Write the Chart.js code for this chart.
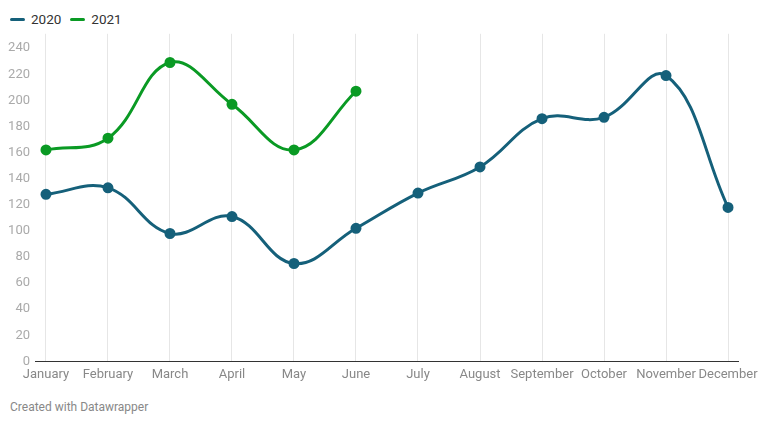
<!DOCTYPE html>
<html>
<head>
<meta charset="utf-8">
<script src="https://cdn.jsdelivr.net/npm/chart.js@4"></script>
<style>
  body { margin: 0; background: #fff; font-family: Roboto, "Noto Sans", sans-serif; }
  #wrap { position: relative; width: 768px; height: 424px; }
  #legend { position: absolute; left: 10px; top: 11px; font-size: 13.5px; color: #333; display: flex; gap: 9px; }
  #legend span { display: inline-flex; align-items: center; }
  #legend i { display: inline-block; width: 15px; height: 3px; border-radius: 2px; margin-right: 6px; }
  #box { position: absolute; left: 0; top: 21px; width: 768px; height: 368px; }
  #foot { position: absolute; left: 10px; top: 400px; font-size: 12px; color: #888; }
</style>
</head>
<body>
<div id="wrap">
  <div id="legend"></div>
  <div id="box"><canvas id="chart"></canvas></div>
  <div id="foot">Created with Datawrapper</div>
</div>
<script>
const months = ["January", "February", "March", "April", "May", "June", "July", "August", "September", "October", "November", "December"]
const values2020 = [128, 133, 98, 111, 75, 102, 129, 149, 186, 187, 219, 118]
const values2021 = [162, 171, 229, 197, 162, 207]
const yTicks = [0, 20, 40, 60, 80, 100, 120, 140, 160, 180, 200, 220, 240]

const series = [
       { label: "2020", values: values2020, color: "#15607a" },
       { label: "2021", values: values2021, color: "#0a9a24" }
]

const legend = document.getElementById("legend")
series.forEach(s => {
       legend.innerHTML += `<span><i style="background:${s.color}"></i>${s.label}</span>`
})

new Chart(document.getElementById("chart"), {
       type: "line",
       data: {
              datasets: series.map(s => ({
                     label: s.label,
                     data: s.values.map((v, i) => ({ x: i, y: v })),
                     borderColor: s.color,
                     backgroundColor: s.color,
                     borderWidth: 3,
                     pointRadius: 4,
                     pointHoverRadius: 4,
                     tension: 0.4
              }))
       },
       options: {
              responsive: true,
              maintainAspectRatio: false,
              animation: false,
              layout: { padding: { top: 5, right: 30, left: 0, bottom: 0 } },
              plugins: {
                     legend: { display: false },
                     tooltip: { enabled: false }
              },
              scales: {
                     x: {
                            type: "linear",
                            min: -0.177,
                            max: 11.161,
                            afterBuildTicks: scale => { scale.ticks = months.map((m, i) => ({ value: i })) },
                            ticks: {
                                   callback: v => months[v],
                                   color: "#888",
                                   font: { family: "Roboto", size: 13 },
                                   padding: 6,
                                   maxRotation: 0,
                                   autoSkip: false
                            },
                            grid: { color: "#e6e6e6", drawTicks: false },
                            border: { color: "#333", width: 1 }
                     },
                     y: {
                            min: 0,
                            max: 251,
                            afterBuildTicks: scale => { scale.ticks = yTicks.map(v => ({ value: v })) },
                            afterFit: scale => { scale.width = 35 },
                            ticks: {
                                   color: "#aaa",
                                   font: { family: "Roboto", size: 13 },
                                   padding: 5
                            },
                            grid: { display: false, drawTicks: false },
                            border: { display: false }
                     }
              }
       }
})
</script>
</body>
</html>
